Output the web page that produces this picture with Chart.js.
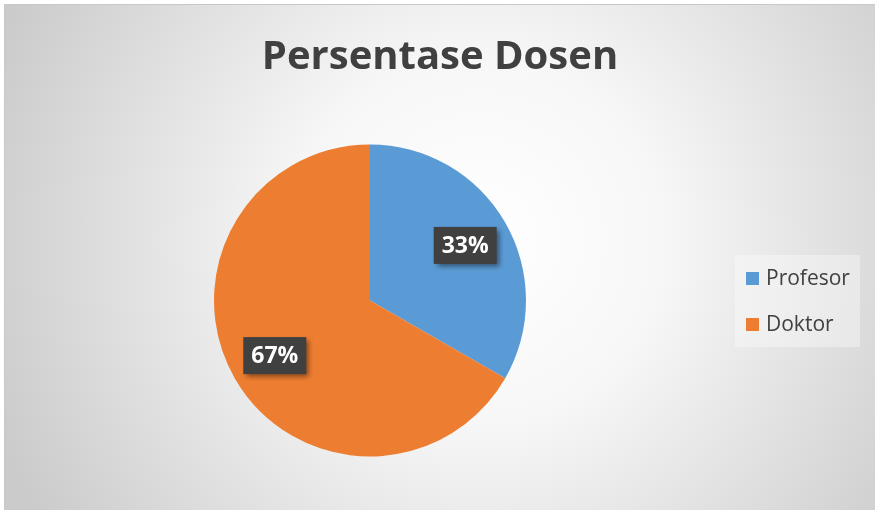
<!DOCTYPE html>
<html>
<head>
<meta charset="utf-8">
<script src="https://cdn.jsdelivr.net/npm/chart.js@4"></script>
<style>
  html, body { margin: 0; padding: 0; background: #ffffff; }
  #wrap { width: 875px; height: 510px; position: relative; }
</style>
</head>
<body>
<div id="wrap"><canvas id="dosenChart" width="875" height="510"></canvas></div>
<script>
const kategori = ["Profesor", "Doktor"];
const nilai = [33.3, 66.7];
const warna = ["#5b9bd5", "#ed7d31"];
const judul = "Persentase Dosen";

const fontName = "'Open Sans', 'Noto Sans', sans-serif";

// background frame, title, legend
const bgPlugin = {
  id: "bgPlugin",
  beforeDraw(chart){
    const c = chart.ctx;
    c.save();
    const g = c.createRadialGradient(480, 240, 0, 480, 240, 520);
    g.addColorStop(0, "#ffffff");
    g.addColorStop(0.35, "#f7f7f7");
    g.addColorStop(1, "#cbcbcb");
    c.fillStyle = g;
    c.fillRect(4, 4, 871, 506);
    c.strokeStyle = "#c8c8c8";
    c.lineWidth = 1;
    c.strokeRect(4.5, 4.5, 875, 510);
    c.restore();
  },
  afterDraw(chart){
    const c = chart.ctx;
    c.save();

    // title
    c.fillStyle = "#404040";
    c.font = "bold 40px " + fontName;
    c.textAlign = "center";
    c.textBaseline = "middle";
    c.fillText(judul, 440, 58);

    // legend
    c.fillStyle = "rgba(255,255,255,0.35)";
    c.fillRect(735, 255, 125, 92);
    c.font = "21px " + fontName;
    c.textAlign = "left";
    kategori.forEach((k, i) => {
      const y = 278 + i * 46;
      c.fillStyle = warna[i];
      c.fillRect(746, y - 6, 13, 13);
      c.fillStyle = "#404040";
      c.fillText(k, 766, y + 1);
    });

    // data labels
    const meta = chart.getDatasetMeta(0);
    const total = nilai.reduce((a, b) => a + b, 0);
    meta.data.forEach((arc, i) => {
      const mid = (arc.startAngle + arc.endAngle) / 2;
      const r = arc.outerRadius * 0.705;
      const x = arc.x + Math.cos(mid) * r;
      const y = arc.y + Math.sin(mid) * r;
      const teks = Math.round(nilai[i] / total * 100) + "%";
      c.save();
      c.shadowColor = "rgba(0,0,0,0.45)";
      c.shadowBlur = 5;
      c.shadowOffsetX = 3;
      c.shadowOffsetY = 3;
      c.fillStyle = "#404040";
      c.fillRect(x - 31.5, y - 18.5, 63, 37);
      c.restore();
      c.fillStyle = "#ffffff";
      c.font = "bold 23px " + fontName;
      c.textAlign = "center";
      c.textBaseline = "middle";
      c.fillText(teks, x, y + 1);
    });

    c.restore();
  }
};

new Chart(document.getElementById("dosenChart"), {
  type: "pie",
  data: {
    labels: kategori,
    datasets: [{
      data: nilai,
      backgroundColor: warna,
      borderColor: "#ffffff",
      borderWidth: 0
    }]
  },
  options: {
    responsive: false,
    animation: false,
    layout: {
      padding: { left: 214, right: 349, top: 144, bottom: 53 }
    },
    plugins: {
      legend: { display: false },
      title: { display: false },
      tooltip: { enabled: false }
    }
  },
  plugins: [bgPlugin]
});
</script>
</body>
</html>
